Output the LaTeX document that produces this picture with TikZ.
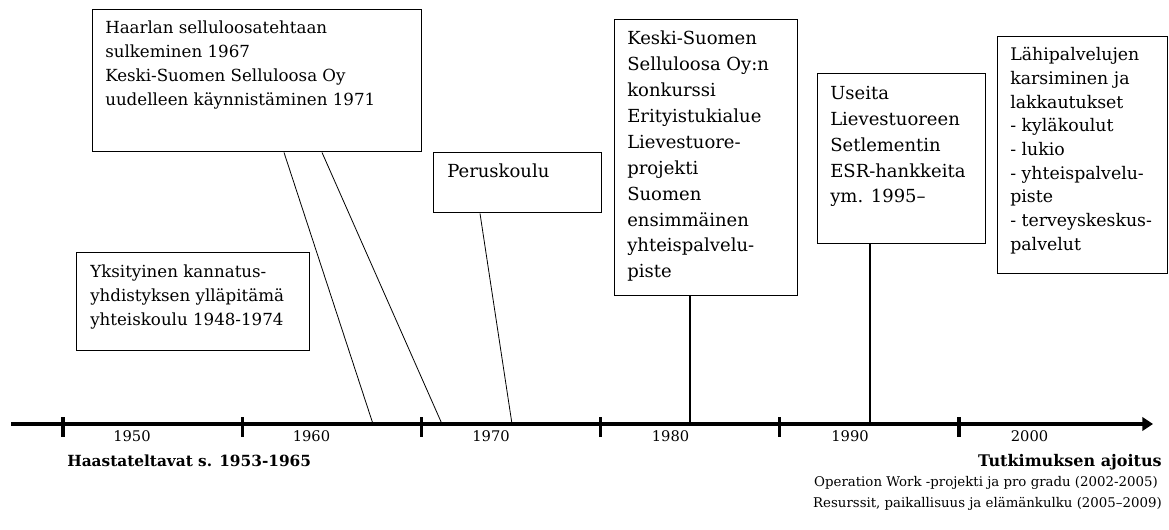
\documentclass[tikz,border=0pt]{standalone}
\usepackage{fontspec}
\setmainfont{DejaVu Serif}
\usepackage{tikz}
\usetikzlibrary{arrows.meta,calc}

\tikzset{
  box/.style={draw, line width=1.1pt, anchor=north west, inner sep=0pt},
  txt/.style={anchor=north west, inner sep=0pt, align=left},
  link/.style={line width=0.6pt},
  stem/.style={line width=1.1pt},
  tickmark/.style={line width=2.4pt},
  year/.style={font=\fontsize{11}{13}\selectfont},
  axislabel/.style={inner sep=0pt, font=\bfseries\fontsize{11.5}{14}\selectfont},
  studylabel/.style={anchor=east, inner sep=0pt, font=\fontsize{10}{12}\selectfont}
}

\begin{document}
\begin{tikzpicture}[x=0.75pt,y=-0.75pt]
\useasboundingbox (0,0) rectangle (1169,530);

% Time axis
\coordinate (start) at (11,424);
\coordinate (end) at (1153,424);
\draw[line width=2.5pt, -{Triangle[length=8pt,width=10pt]}] (start) -- (end);

% Ticks and decades
\foreach \yr [count=\i from 0] in {1950,1960,1970,1980,1990,2000} {
    \draw[tickmark] (63+179.2*\i,417) -- (63+179.2*\i,437);
    \node[year] (year\i) at (132+179.5*\i,436) {\yr};
}

% Labels under the axis
\node[axislabel, anchor=west] (haast) at (67,461) {Haastateltavat s. 1953-1965};
\node[axislabel, anchor=east, font=\bfseries\fontsize{12}{14}\selectfont] (ajoitus) at (1162,462) {Tutkimuksen ajoitus};
\node[studylabel] (operation) at (1158,483) {Operation Work -projekti ja pro gradu (2002-2005)};
\node[studylabel] (resurssit) at (1162,504) {Resurssit, paikallisuus ja elämänkulku (2005–2009)};

% Event boxes
\node[box, minimum width=246.75pt, minimum height=106.5pt] (haarla) at (92,9) {};
\node[txt, font=\fontsize{12.5}{18}\selectfont] (haarla-t) at ([shift={(13,12)}]haarla.north west)
    {Haarlan selluloosatehtaan\\sulkeminen 1967\\Keski-Suomen Selluloosa Oy\\uudelleen käynnistäminen 1971};

\node[box, minimum width=126pt, minimum height=45pt] (perus) at (433,152) {};
\node[txt, font=\fontsize{13.5}{19}\selectfont] (perus-t) at ([shift={(14,12)}]perus.north west) {Peruskoulu};

\node[box, minimum width=174.75pt, minimum height=73.5pt] (yksi) at (76,252) {};
\node[txt, font=\fontsize{12.5}{18}\selectfont] (yksi-t) at ([shift={(14,13)}]yksi.north west)
    {Yksityinen kannatus-\\yhdistyksen ylläpitämä\\yhteiskoulu 1948-1974};

\node[box, minimum width=137.25pt, minimum height=207pt] (keski) at (614,19) {};
\node[txt, font=\fontsize{13.5}{19.4}\selectfont] (keski-t) at ([shift={(13,12)}]keski.north west)
    {Keski-Suomen\\Selluloosa Oy:n\\konkurssi\\Erityistukialue\\Lievestuore-\\projekti\\Suomen\\ensimmäinen\\yhteispalvelu-\\piste};

\node[box, minimum width=126pt, minimum height=127.5pt] (useita) at (817,73) {};
\node[txt, font=\fontsize{13.5}{19.4}\selectfont] (useita-t) at ([shift={(13,13)}]useita.north west)
    {Useita\\Lievestuoreen\\Setlementin\\ESR-hankkeita\\ym. 1995–};

\node[box, minimum width=127.5pt, minimum height=177.75pt] (lahi) at (997,36) {};
\node[txt, font=\fontsize{13}{17.8}\selectfont] (lahi-t) at ([shift={(13,11)}]lahi.north west)
    {Lähipalvelujen\\karsiminen ja\\lakkautukset\\- kyläkoulut\\- lukio\\- yhteispalvelu-\\piste\\- terveyskeskus-\\palvelut};

% Where the events meet the axis
\coordinate (haarla-a1) at (373,424);
\coordinate (haarla-a2) at (442,424);
\coordinate (perus-a) at (512,424);
\coordinate (keski-a) at (690,424);
\coordinate (useita-a) at (870,424);

% Connectors
\draw[link] ($(haarla.south west)+(192,0)$) -- (haarla-a1);
\draw[link] ($(haarla.south west)+(230,0)$) -- (haarla-a2);
\draw[link] ($(perus.south west)+(47,0)$) -- (perus-a);
\draw[stem] ($(keski.south west)+(76,0)$) -- (keski-a);
\draw[stem] ($(useita.south west)+(53,0)$) -- (useita-a);

\end{tikzpicture}
\end{document}
